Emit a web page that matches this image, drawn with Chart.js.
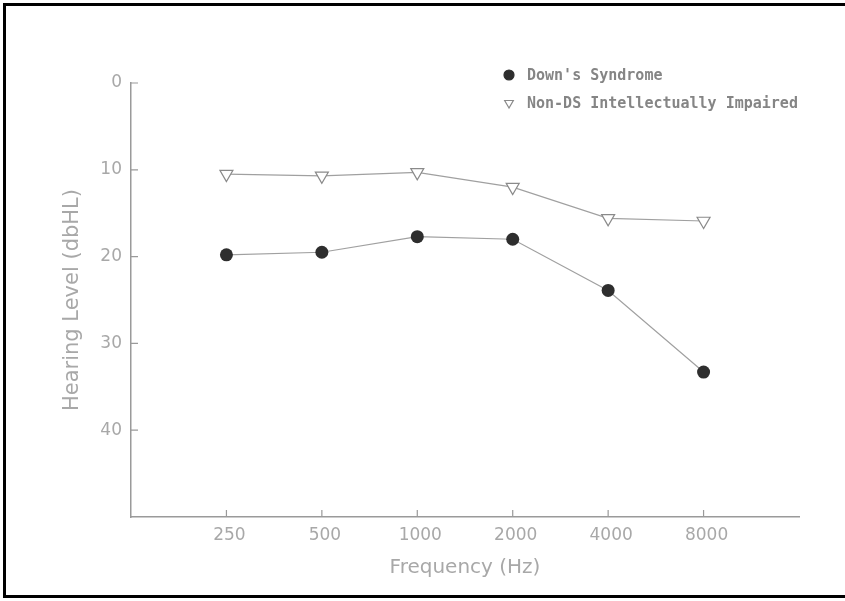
<!DOCTYPE html>
<html>
<head>
<meta charset="utf-8">
<script src="https://cdn.jsdelivr.net/npm/chart.js@4"></script>
<style>
  body { margin: 0; background: #fff; overflow: hidden; }
  #wrap { position: absolute; left: 0; top: 0; width: 845px; height: 601px; }
  #frame {
    position: absolute; left: 3px; top: 3px; width: 842px; height: 595px;
    border-left: 3px solid #000; border-top: 3px solid #000; border-bottom: 3px solid #000;
    box-sizing: border-box; pointer-events: none;
  }
</style>
</head>
<body>
<div id="wrap">
  <canvas id="chart1" width="845" height="601"></canvas>
  <div id="frame"></div>
</div>
<script>
// audiogram: mean hearing level per frequency
const frequencies = ['250', '500', '1000', '2000', '4000', '8000'];
const downsSyndrome = [19.8, 19.5, 17.7, 18.0, 23.9, 33.3];
const nonDsImpaired = [10.5, 10.7, 10.3, 12.0, 15.6, 15.9];
const yTicks = [0, 10, 20, 30, 40];

const toPoints = vals => vals.map((v, i) => ({ x: i + 1, y: v }));

const axisGray = '#9a9a9a';
const textGray = '#a8a8a8';

// tick marks point inward, legend sits inside the plot
const extras = {
  id: 'extras',
  afterDraw(chart) {
    const { ctx, scales: { x, y } } = chart;
    ctx.save();
    ctx.strokeStyle = axisGray;
    ctx.lineWidth = 1.2;
    ctx.beginPath();
    yTicks.forEach(t => {
      const py = y.getPixelForValue(t);
      ctx.moveTo(x.left, py);
      ctx.lineTo(x.left + 7, py);
    });
    frequencies.forEach((f, i) => {
      const px = x.getPixelForValue(i + 1);
      ctx.moveTo(px, y.bottom);
      ctx.lineTo(px, y.bottom - 7);
    });
    ctx.stroke();

    // legend
    ctx.font = 'bold 15px "DejaVu Sans Mono"';
    ctx.textBaseline = 'middle';
    chart.data.datasets.forEach((ds, i) => {
      const ly = 75 + i * 28;
      ctx.fillStyle = ds.pointBackgroundColor;
      ctx.strokeStyle = ds.pointBorderColor;
      ctx.lineWidth = 1.2;
      Chart.helpers.drawPoint(ctx, { pointStyle: ds.pointStyle, rotation: ds.pointRotation || 0, radius: 5, borderWidth: 1.2 }, 509, ly);
      ctx.fillStyle = '#858585';
      ctx.fillText(ds.label, 527, ly + 1);
    });
    ctx.restore();
  }
};

new Chart(document.getElementById('chart1').getContext('2d'), {
  type: 'line',
  data: {
    datasets: [{
      label: "Down's Syndrome",
      data: toPoints(downsSyndrome),
      borderColor: '#a0a0a0',
      borderWidth: 1.2,
      pointStyle: 'circle',
      pointRadius: 6.5,
      pointBackgroundColor: '#2e2e2e',
      pointBorderColor: '#2e2e2e',
      pointBorderWidth: 0
    }, {
      label: 'Non-DS Intellectually Impaired',
      data: toPoints(nonDsImpaired),
      borderColor: '#a0a0a0',
      borderWidth: 1.2,
      pointStyle: 'triangle',
      pointRotation: 180,
      pointRadius: 7.5,
      pointBackgroundColor: '#ffffff',
      pointBorderColor: '#8a8a8a',
      pointBorderWidth: 1.2
    }]
  },
  options: {
    responsive: false,
    animation: false,
    layout: { padding: { top: 83, right: 46, left: 0, bottom: 0 } },
    plugins: { legend: { display: false }, tooltip: { enabled: false } },
    scales: {
      x: {
        type: 'linear',
        min: 0,
        max: 7,
        afterBuildTicks: s => { s.ticks = frequencies.map((f, i) => ({ value: i + 1 })); },
        afterFit: s => { s.height = 84; },
        grid: { display: false, drawTicks: false },
        border: { color: axisGray, width: 1.5 },
        ticks: {
          padding: 8,
          labelOffset: 3,
          color: textGray,
          font: { family: 'DejaVu Sans', size: 17 },
          callback: v => frequencies[v - 1]
        },
        title: {
          display: true,
          text: 'Frequency (Hz)',
          color: textGray,
          font: { family: 'DejaVu Sans', size: 20 },
          padding: { top: 0, bottom: 21 }
        }
      },
      y: {
        reverse: true,
        min: 0,
        max: 50,
        afterBuildTicks: s => { s.ticks = yTicks.map(v => ({ value: v })); },
        afterFit: s => { s.width = 131; },
        grid: { display: false, drawTicks: false },
        border: { color: axisGray, width: 1.5 },
        ticks: {
          padding: 9,
          color: textGray,
          font: { family: 'DejaVu Sans', size: 17 }
        },
        title: {
          display: true,
          text: 'Hearing Level (dbHL)',
          color: textGray,
          font: { family: 'DejaVu Sans', size: 21 },
          padding: { top: 60, bottom: 0 }
        }
      }
    }
  },
  plugins: [extras]
});
</script>
</body>
</html>
